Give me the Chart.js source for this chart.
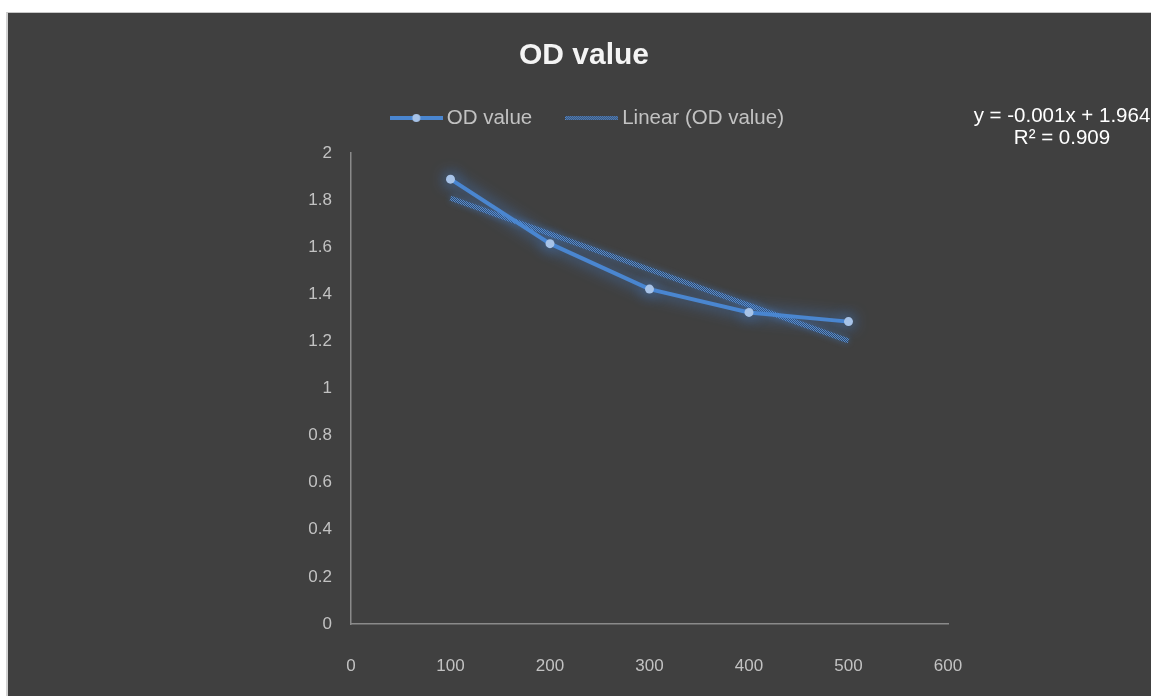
<!DOCTYPE html>
<html><head><meta charset="utf-8">
<script src="https://cdn.jsdelivr.net/npm/chart.js@4/dist/chart.umd.min.js"></script>
<style>
html,body{margin:0;padding:0;background:#fff;width:1151px;height:696px;overflow:hidden}
#panel{position:absolute;left:6px;top:12px;width:1145px;height:684px;border-left:2px solid #d2d2d2;border-top:1px solid #c8c8c8;background:#404040;box-sizing:border-box}
#c{position:absolute;left:0;top:0}
</style></head><body>
<div id="panel"><canvas id="c" width="1143" height="683"></canvas></div>
<script>
// ---- data ----
const titleText = 'OD value';
const seriesNames = ['OD value', 'Linear (OD value)'];
const xValues = [100, 200, 300, 400, 500];
const odValues = [1.889, 1.615, 1.422, 1.323, 1.284];
const trendX = [100, 500];
const trendY = [1.808, 1.202];
const xTickLabels = ['0', '100', '200', '300', '400', '500', '600'];
const yTickLabels = ['0', '0.2', '0.4', '0.6', '0.8', '1', '1.2', '1.4', '1.6', '1.8', '2'];
const equationLines = ['y = -0.001x + 1.964', 'R\u00B2 = 0.909'];

const NARROW = "'Liberation Sans Narrow', 'Liberation Sans', Arial, sans-serif";
const REG = "'Liberation Sans', Arial, sans-serif";
const lineColor = '#4a86d0';
const markerColor = '#a7c3e8';
const tickColor = '#c2c2c2';
const axisColor = '#8a8a8a';

function makeHatch() {
  const p = document.createElement('canvas'); p.width = 2; p.height = 2;
  const g = p.getContext('2d');
  g.fillStyle = '#2f4a6d'; g.fillRect(0, 0, 2, 2);
  g.fillStyle = '#5d8bc5'; g.fillRect(0, 0, 1, 1); g.fillRect(1, 1, 1, 1);
  return g.createPattern(p, 'repeat');
}
const hatch = makeHatch();

function legendIcon(withMarker) {
  const c = document.createElement('canvas'); c.width = 53; c.height = 10;
  const g = c.getContext('2d');
  g.lineWidth = 4;
  g.strokeStyle = withMarker ? lineColor : hatch;
  g.beginPath(); g.moveTo(0, 5); g.lineTo(53, 5); g.stroke();
  if (withMarker) { g.fillStyle = markerColor; g.beginPath(); g.arc(26.5, 5, 4, 0, Math.PI * 2); g.fill(); }
  return c;
}
const icons = [legendIcon(true), legendIcon(false)];

const glow = {
  id: 'glow',
  beforeDatasetDraw(chart, args) {
    const ctx = chart.ctx; ctx.save();
    if (args.index === 0) { ctx.shadowColor = 'rgba(70,140,235,0.95)'; ctx.shadowBlur = 15; }
    else { ctx.shadowColor = 'rgba(70,130,210,0.45)'; ctx.shadowBlur = 6; }
  },
  afterDatasetDraw(chart) { chart.ctx.restore(); }
};

const legendExtra = {
  id: 'legendExtra',
  afterInit(chart) {
    const lg = chart.legend; const f = lg.fit.bind(lg);
    lg.fit = function () { f(); this.height += 14.75; };
  },
  afterLayout(chart) {
    const lg = chart.legend; lg.left += 6; lg.right += 6;
  }
};

const equation = {
  id: 'equation',
  afterDraw(chart) {
    const ctx = chart.ctx; ctx.save();
    ctx.fillStyle = '#ffffff'; ctx.font = '20.5px ' + REG;
    ctx.textAlign = 'center'; ctx.textBaseline = 'middle';
    ctx.fillText(equationLines[0], 1054, 103);
    ctx.fillText(equationLines[1], 1054, 125);
    ctx.restore();
  }
};

new Chart(document.getElementById('c'), {
  type: 'line',
  data: {
    datasets: [
      {
        label: seriesNames[0],
        data: xValues.map((x, i) => ({ x: x, y: odValues[i] })),
        borderColor: lineColor, borderWidth: 4,
        pointRadius: 4.5, pointBackgroundColor: markerColor, pointBorderColor: markerColor, pointBorderWidth: 0,
        tension: 0
      },
      {
        label: seriesNames[1],
        data: trendX.map((x, i) => ({ x: x, y: trendY[i] })),
        borderColor: hatch, borderWidth: 5, pointRadius: 0, tension: 0
      }
    ]
  },
  options: {
    responsive: false, animation: false, devicePixelRatio: 1,
    layout: { padding: { left: 212, right: 203, top: 0, bottom: 0 } },
    plugins: {
      tooltip: { enabled: false },
      title: {
        display: true, text: titleText, color: '#f4f4f4',
        font: { family: REG, size: 30, weight: 'bold', lineHeight: '16px' },
        padding: { top: 35, bottom: 4.5 }
      },
      legend: {
        position: 'top',
        labels: {
          usePointStyle: true, pointStyleWidth: 40.5, padding: 39.25, color: tickColor,
          font: { family: NARROW, size: 20.5 },
          generateLabels(chart) {
            return chart.data.datasets.map((d, i) => ({
              text: d.label, pointStyle: icons[i], fillStyle: 'transparent', strokeStyle: 'transparent',
              lineWidth: 0, hidden: false, datasetIndex: i, fontColor: tickColor
            }));
          }
        }
      }
    },
    scales: {
      x: {
        type: 'linear', min: 0, max: 600,
        border: { display: true, color: axisColor, width: 1.5 },
        grid: { display: false, drawTicks: false },
        afterBuildTicks(s) { s.ticks = xTickLabels.map(t => ({ value: Number(t) })); },
        ticks: { color: tickColor, font: { family: NARROW, size: 17 }, padding: 32, callback: (v, i) => xTickLabels[i] },
        afterFit(s) { s.height = 72; }
      },
      y: {
        min: 0, max: 2,
        border: { display: true, color: axisColor, width: 1.5 },
        grid: { display: false, drawTicks: false },
        afterBuildTicks(s) { s.ticks = yTickLabels.map(t => ({ value: Number(t) })); },
        ticks: { color: tickColor, font: { family: NARROW, size: 17 }, padding: 19, callback: (v, i) => yTickLabels[i] },
        afterFit(s) { s.width = 131; }
      }
    }
  },
  plugins: [glow, legendExtra, equation]
});
</script>
</body></html>
